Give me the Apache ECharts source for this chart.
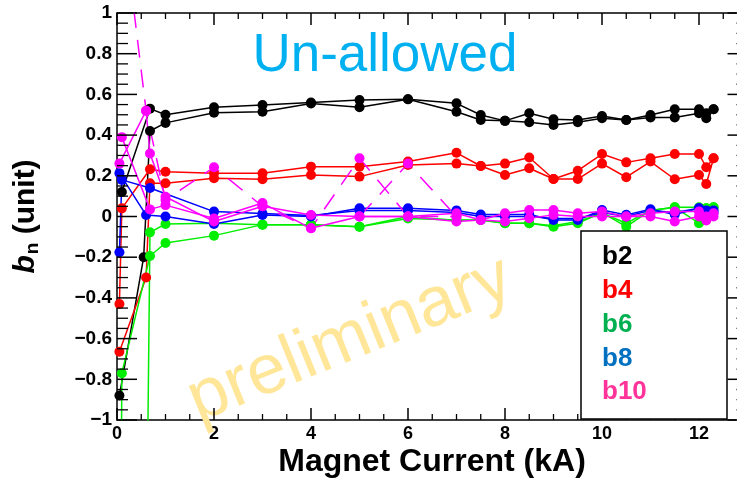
<!DOCTYPE html>
<html>
<head>
<meta charset="utf-8">
<script src="https://cdn.jsdelivr.net/npm/echarts@6/dist/echarts.min.js"></script>
<style>html,body{margin:0;padding:0;background:#fff;}#c{width:737px;height:482px;}</style>
</head>
<body>
<div id="c"></div>
<script>
// Magnet current (kA) sample positions shared by all runs
const current = [0.05, 0.1, 0.55, 0.6, 0.68, 1, 2, 3, 4, 5, 6, 7, 7.5, 8, 8.5, 9, 9.5, 10, 10.5, 11, 11.5, 12, 12.15, 12.3];

// b2 (two runs)
const b2_runA = [-0.88, null, -0.2, null, 0.42, 0.46, 0.51, 0.515, 0.555, 0.537, 0.576, 0.515, 0.474, 0.47, 0.463, 0.45, 0.463, 0.483, 0.474, 0.487, 0.487, 0.507, 0.483, 0.527];
const b2_runB = [null, 0.12, null, null, 0.53, 0.50, 0.537, 0.548, 0.56, 0.572, 0.576, 0.556, 0.499, 0.47, 0.507, 0.478, 0.474, 0.494, 0.474, 0.499, 0.527, 0.527, 0.507, 0.527];
// b4
const b4_runA = [-0.665, null, null, -0.3, 0.163, 0.163, 0.188, 0.183, 0.204, 0.196, 0.253, 0.26, 0.248, 0.204, 0.237, 0.184, 0.184, 0.26, 0.193, 0.27, 0.183, 0.204, 0.16, 0.286];
const b4_runB = [-0.43, 0.04, null, null, 0.232, 0.22, 0.212, 0.212, 0.245, 0.245, 0.27, 0.313, 0.248, 0.26, 0.29, 0.184, 0.225, 0.307, 0.266, 0.286, 0.307, 0.307, 0.242, 0.286];
// b6
const b6_runA = [-3, -0.77, null, null, -0.194, -0.13, -0.094, -0.04, -0.04, -0.05, 0.0, -0.02, -0.017, -0.033, -0.033, -0.05, -0.033, 0.019, -0.05, 0.03, 0.045, -0.033, 0.04, 0.045];
const b6_runB = [null, null, -3, null, -0.078, -0.037, -0.033, -0.04, -0.04, -0.05, -0.01, -0.017, -0.017, -0.033, -0.033, -0.046, -0.025, 0.016, -0.033, 0.03, 0.045, 0.045, 0.04, 0.045];
// b8
const b8_runA = [0.213, null, null, 0.007, null, 0.0, -0.037, 0.007, 0.0, 0.04, 0.04, 0.03, 0.01, 0.01, 0.01, -0.017, -0.017, 0.032, 0.008, 0.036, 0.01, 0.04, 0.02, 0.02];
const b8_runB = [-0.176, 0.18, null, null, 0.14, null, 0.024, 0.015, 0.005, 0.03, 0.03, 0.02, 0.0, 0.0, 0.0, -0.01, -0.01, 0.02, 0.0, 0.03, 0.02, 0.04, 0.03, 0.03];
// b10 (two solid runs, two dashed pieces)
const b10_runA = [0.26, null, null, 0.52, 0.31, 0.097, -0.025, 0.05, 0.007, 0.0, 0.0, 0.016, -0.017, 0.016, 0.032, 0.032, 0.016, 0.024, 0.0, 0.016, 0.024, 0.024, 0.0, 0.016];
const b10_runB = [null, 0.39, null, null, 0.035, 0.056, -0.01, 0.066, -0.058, 0.0, 0.0, -0.025, -0.017, -0.025, -0.009, 0.008, 0.0, 0.0, 0.0, 0.0, -0.025, 0.0, -0.02, 0.0];
const b10_dashA = [1.6, null, null, 0.52, null, 0.081, 0.242, 0.05, -0.058, 0.286, 0.0, 0.0, null, null, null, null, null, null, null, null, null, null, null, null];
const b10_dashB = [null, null, null, null, null, null, null, null, null, 0.0, 0.26, 0.0, null, null, null, null, null, null, null, null, null, null, null, null];

// axis ticks
const xMajorTicks = [0, 2, 4, 6, 8, 10, 12];
const xMinorTicks = [0.5, 1, 1.5, 2.5, 3, 3.5, 4.5, 5, 5.5, 6.5, 7, 7.5, 8.5, 9, 9.5, 10.5, 11, 11.5, 12.5];
const yMajorTicks = [-1, -0.8, -0.6, -0.4, -0.2, 0, 0.2, 0.4, 0.6, 0.8, 1];
const xFrameEnd = 13;
const legendNames = ['b2', 'b4', 'b6', 'b8', 'b10'];
const legendColors = ['#000000', '#ff0000', '#00b050', '#0070c0', '#ff3399'];

const FONT = '"Liberation Sans", Arial, Helvetica, sans-serif';
const X_MAX = 619 / 48.5; // visible part of the 0..13 frame (right edge is cropped)

function pairs(vals) {
  const out = [];
  vals.forEach((v, i) => { if (v !== null) out.push([current[i], v]); });
  return out;
}

function run(name, vals, color, dashed) {
  return {
    type: 'line', name: name, data: pairs(vals),
    xAxisIndex: 0, yAxisIndex: 0,
    symbol: 'circle', symbolSize: 10, clip: true, animation: false,
    lineStyle: { color: color, width: 1.5, type: dashed ? [18, 12] : 'solid' },
    itemStyle: { color: color },
    emphasis: { disabled: true }
  };
}

// frame ticks: [value, side(0 bottom,1 top,2 left,3 right), length, width]
const frameTicks = [];
xMajorTicks.forEach(v => { frameTicks.push([v, 0, 12, 1.5]); frameTicks.push([v, 1, 12, 1.5]); });
xMinorTicks.forEach(v => { frameTicks.push([v, 0, 6, 1.3]); frameTicks.push([v, 1, 6, 1.3]); });
yMajorTicks.forEach((v, i) => {
  frameTicks.push([v, 2, 20, 1.5]); frameTicks.push([v, 3, 20, 1.5]);
  if (i < yMajorTicks.length - 1) {
    const step = (yMajorTicks[i + 1] - v) / 4;
    for (let k = 1; k < 4; k++) { frameTicks.push([v + k * step, 2, 11, 1.3]); frameTicks.push([v + k * step, 3, 11, 1.3]); }
  }
});

const tickSeries = {
  type: 'custom', xAxisIndex: 0, yAxisIndex: 0, silent: true, z: 5, clip: false, animation: false,
  dimensions: ['v', 'side', 'len', 'w'],
  encode: { x: 'v', y: 'side' },
  data: frameTicks,
  renderItem: function (params, api) {
    const v = api.value(0), side = api.value(1), len = api.value(2), w = api.value(3);
    let p, q;
    if (side === 0) { p = api.coord([v, -1]); q = [p[0], p[1] - len]; }
    else if (side === 1) { p = api.coord([v, 1]); q = [p[0], p[1] + len]; }
    else if (side === 2) { p = api.coord([0, v]); q = [p[0] + len, p[1]]; }
    else { p = api.coord([xFrameEnd, v]); q = [p[0] - len, p[1]]; }
    return { type: 'line', shape: { x1: p[0], y1: p[1], x2: q[0], y2: q[1] }, style: { stroke: '#000', lineWidth: w } };
  }
};

const series = [
  run('b2', b2_runA, '#000000'), run('b2', b2_runB, '#000000'),
  run('b4', b4_runA, '#ff0000'), run('b4', b4_runB, '#ff0000'),
  run('b6', b6_runA, '#00ee00'), run('b6', b6_runB, '#00ee00'),
  run('b8', b8_runA, '#0000ff'), run('b8', b8_runB, '#0000ff'),
  run('b10', b10_runA, '#ff00ff'), run('b10', b10_runB, '#ff00ff'),
  run('b10', b10_dashA, '#ff00ff', true), run('b10', b10_dashB, '#ff00ff', true),
  tickSeries
];

function xAx(pos, withLabels) {
  const a = {
    type: 'value', min: 0, max: X_MAX, interval: 2, position: pos,
    axisLine: { show: true, onZero: false, lineStyle: { color: '#000', width: 1.5 } },
    axisTick: { show: false }, minorTick: { show: false }, splitLine: { show: false },
    axisLabel: { show: false }
  };
  if (withLabels) {
    a.axisLabel = {
      show: true, margin: 5, color: '#000', fontSize: 18, fontWeight: 'bold', fontFamily: FONT,
      customValues: xMajorTicks, formatter: v => String(v)
    };
  }
  return a;
}

const graphics = [
  { type: 'text', z: 1, x: 350, y: 340, rotation: 22 * Math.PI / 180,
    style: { text: 'preliminary', fill: '#ffe699', fontSize: 70, fontFamily: FONT, align: 'center', verticalAlign: 'middle' } },
  { type: 'text', z: 1, x: 385, y: 56,
    style: { text: 'Un-allowed', fill: '#00b0f0', fontSize: 53, fontFamily: FONT, align: 'center', verticalAlign: 'middle' } },
  { type: 'text', z: 1, x: 432, y: 462,
    style: { text: 'Magnet Current (kA)', fill: '#000', fontSize: 32, fontWeight: 'bold', fontFamily: FONT, align: 'center', verticalAlign: 'middle' } },
  { type: 'rect', z: 10, shape: { x: 581, y: 231, width: 146, height: 188 },
    style: { fill: '#fff', stroke: '#000', lineWidth: 1.5 } }
];
legendNames.forEach((n, i) => {
  graphics.push({
    type: 'text', z: 11, x: 602, y: 257 + i * 33.8,
    style: { text: n, fill: legendColors[i], fontSize: 26, fontWeight: 'bold', fontFamily: FONT, align: 'left', verticalAlign: 'middle' }
  });
});

const chart = echarts.init(document.getElementById('c'));
chart.setOption({
  animation: false,
  grid: { left: 117, top: 13, width: 619, height: 407 },
  xAxis: [xAx('bottom', true), xAx('top', false)],
  yAxis: [{
    type: 'value', min: -1, max: 1, interval: 0.2, position: 'left',
    axisLine: { show: true, onZero: false, lineStyle: { color: '#000', width: 1.5 } },
    axisTick: { show: false }, minorTick: { show: false },
    splitLine: { show: false },
    axisLabel: {
      margin: 5, color: '#000', fontSize: 19, fontWeight: 'bold', fontFamily: FONT,
      formatter: v => { const r = Math.round(v * 10) / 10; if (r === 0) return '0'; return (r < 0 ? '\u2212' : '') + String(Math.abs(r)); }
    },
    name: '{b|b}{n|n} (unit)', nameLocation: 'middle', nameGap: 75,
    nameTextStyle: {
      color: '#000', fontSize: 30, fontWeight: 'bold', fontFamily: FONT,
      rich: {
        b: { fontSize: 30, fontWeight: 'bold', fontStyle: 'italic', fontFamily: FONT, color: '#000' },
        n: { fontSize: 19, fontWeight: 'bold', fontFamily: FONT, color: '#000', padding: [14, 0, 0, 1] }
      }
    }
  }],
  graphic: graphics,
  series: series
});
</script>
</body>
</html>
